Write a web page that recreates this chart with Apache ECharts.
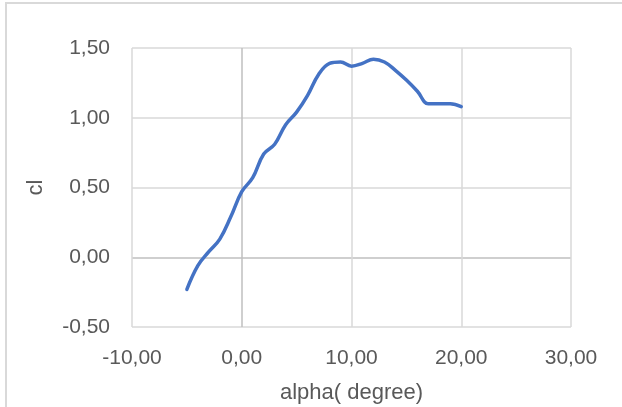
<!DOCTYPE html>
<html>
<head>
<meta charset="utf-8">
<script src="https://cdn.jsdelivr.net/npm/echarts@6/dist/echarts.min.js"></script>
<style>
html,body{margin:0;padding:0;background:#fff;}
#frame{position:absolute;left:5px;top:2px;width:640px;height:420px;border-left:2px solid #d9d9d9;border-top:2px solid #d9d9d9;box-sizing:border-box;}
#chart{position:absolute;left:0;top:0;width:622px;height:407px;}
</style>
</head>
<body>
<div id="frame"></div>
<div id="chart"></div>
<script>
var alpha = [-5,-4,-3,-2,-1,0,1,2,3,4,5,6,7,8,9,10,11,12,13,14,15,16,17,18,19,20];
var cl = [-0.23,-0.06,0.04,0.13,0.29,0.47,0.57,0.74,0.81,0.95,1.04,1.16,1.31,1.39,1.40,1.37,1.39,1.42,1.40,1.34,1.27,1.19,1.10,1.10,1.10,1.08];
var xTitle = 'alpha( degree)';
var yTitle = 'cl';

var chart = echarts.init(document.getElementById('chart'), null, {renderer:'canvas'});
var pts = alpha.map(function(a,i){return [a, cl[i]];});
var fmt = function(v){return v.toFixed(2).replace('.', ',');};
var txt = {color:'#595959', fontFamily:'Liberation Sans, Arial, sans-serif'};
chart.setOption({
  animation:false,
  grid:{left:132, right:51, top:48, bottom:80, containLabel:false, outerBoundsMode:'none'},
  xAxis:{
    type:'value', min:-10, max:30, interval:10,
    axisLine:{show:false}, axisTick:{show:false},
    axisLabel:Object.assign({fontSize:21, margin:21, formatter:fmt}, txt),
    splitLine:{show:true, lineStyle:{color:['#d9d9d9','#bfbfbf','#d9d9d9','#d9d9d9','#d9d9d9'], width:1.5}},
    name:xTitle, nameLocation:'middle', nameGap:55,
    nameTextStyle:Object.assign({fontSize:22}, txt)
  },
  yAxis:{
    type:'value', min:-0.5, max:1.5, interval:0.5,
    axisLine:{show:false}, axisTick:{show:false},
    axisLabel:Object.assign({fontSize:21, margin:22, formatter:fmt}, txt),
    splitLine:{show:true, lineStyle:{color:['#d9d9d9','#bfbfbf','#d9d9d9','#d9d9d9','#d9d9d9'], width:1.5}},
    name:yTitle, nameLocation:'middle', nameGap:85, nameRotate:90,
    nameTextStyle:Object.assign({fontSize:22}, txt)
  },
  series:[{
    type:'line', data:pts, smooth:0.4, showSymbol:false,
    lineStyle:{color:'#4472C4', width:3.5, cap:'round'}
  }]
});
</script>
</body>
</html>
